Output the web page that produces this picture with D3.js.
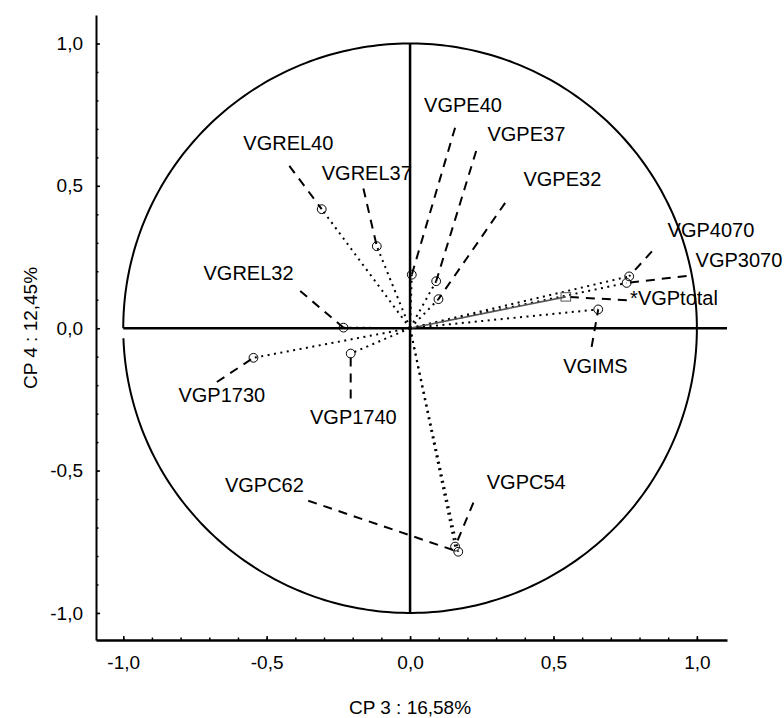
<!DOCTYPE html>
<html>
<head>
<meta charset="utf-8">
<script src="https://cdn.jsdelivr.net/npm/d3@7"></script>
<style>
  body { margin: 0; background: #fff; }
  text { font-family: "Liberation Sans", Arial, sans-serif; fill: #000; }
</style>
</head>
<body>
<svg id="chart" width="784" height="718"></svg>
<script>
// Variable loadings on principal components 3 and 4
const variables = ["VGREL40", "VGREL37", "VGPE40", "VGPE37", "VGPE32", "VGREL32", "VGP1730",
                   "VGP1740", "VGP4070", "VGP3070", "*VGPtotal", "VGIMS", "VGPC54", "VGPC62"];
const cp3 = [-0.308, -0.116, 0.006, 0.091, 0.099, -0.232, -0.546,
             -0.207, 0.764, 0.755, 0.543, 0.656, 0.157, 0.168];
const cp4 = [0.418, 0.288, 0.188, 0.165, 0.102, 0.002, -0.104,
             -0.089, 0.182, 0.159, 0.110, 0.066, -0.767, -0.785];
// supplementary (projected) variable, drawn with a square marker
const supplementary = ["*VGPtotal"];

const majorTicks = [-1.0, -0.5, 0.0, 0.5, 1.0];
const tickLabels = ["-1,0", "-0,5", "0,0", "0,5", "1,0"];
const minorTicks = [-1.0, -0.9, -0.8, -0.7, -0.6, -0.5, -0.4, -0.3, -0.2, -0.1, 0.0,
                    0.1, 0.2, 0.3, 0.4, 0.5, 0.6, 0.7, 0.8, 0.9, 1.0];
const xTitle = "CP 3 : 16,58%";
const yTitle = "CP 4 : 12,45%";

// label placement: pixel offsets from the marker for the text (left, baseline)
// and for the far end of the dashed leader line
const labelLayout = {
  "VGREL40":   { text: [-78.4, -58.7], leader: [-32.4, -43.3] },
  "VGREL37":   { text: [-55.0, -66.3], leader: [-13.4, -57.7] },
  "VGPE40":    { text: [12.3, -163.0], leader: [43.3, -147.0] },
  "VGPE37":    { text: [51.3, -140.7], leader: [40.0, -130.3] },
  "VGPE32":    { text: [85.0, -113.0], leader: [66.7, -96.3] },
  "VGREL32":   { text: [-140.0, -48.0], leader: [-43.3, -36.6] },
  "VGP1730":   { text: [-75.0, 43.8], leader: [-36.6, 24.2] },
  "VGP1740":   { text: [-40.7, 70.4], leader: [0.0, 45.0] },
  "VGP4070":   { text: [38.4, -39.7], leader: [22.7, -25.0] },
  "VGP3070":   { text: [69.0, -15.7], leader: [60.0, -7.0] },
  "*VGPtotal": { text: [64.3, 8.6], leader: [61.0, 3.3] },
  "VGIMS":     { text: [-35.0, 63.4], leader: [-6.6, 37.4] },
  "VGPC54":    { text: [31.7, -58.0], leader: [18.3, -44.0] },
  "VGPC62":    { text: [-233.3, -59.7], leader: [-150.0, -51.0] }
};

const svg = d3.select("#chart");

const x = d3.scaleLinear().domain([-1.095, 1.105]).range([96, 727]);
const y = d3.scaleLinear().domain([-1.095, 1.1]).range([640, 15]);

const points = variables.map((name, i) => ({ name, px: x(cp3[i]), py: y(cp4[i]),
                                              supp: supplementary.includes(name) }));

// unit correlation circle (left side left slightly open below the axis)
const circ = d3.range(0, 361).map(k => {
  const a = Math.PI + 0.035 + (k / 360) * (2 * Math.PI - 0.035);
  return [Math.cos(a), Math.sin(a)];
});
svg.append("path")
  .attr("d", d3.line().x(d => x(d[0])).y(d => y(d[1]))(circ))
  .attr("fill", "none").attr("stroke", "#000").attr("stroke-width", 2);

// reference lines through the origin
svg.append("line")
  .attr("x1", x(-1)).attr("x2", x(1.105)).attr("y1", y(0)).attr("y2", y(0))
  .attr("stroke", "#000").attr("stroke-width", 2.5);
svg.append("line")
  .attr("x1", x(0)).attr("x2", x(0)).attr("y1", y(1)).attr("y2", y(-1))
  .attr("stroke", "#000").attr("stroke-width", 2.5);

// vectors from the origin to each variable
svg.append("g").selectAll("line").data(points).join("line")
  .attr("x1", x(0)).attr("y1", y(0))
  .attr("x2", d => d.px).attr("y2", d => d.py)
  .attr("stroke", d => d.supp ? "#555" : "#000")
  .attr("stroke-width", d => d.supp ? 1.6 : 2)
  .attr("stroke-dasharray", d => d.supp ? null : "2,4.5");

// dashed leaders from markers to labels
svg.append("g").selectAll("line").data(points).join("line")
  .attr("x1", d => d.px + labelLayout[d.name].leader[0])
  .attr("y1", d => d.py + labelLayout[d.name].leader[1])
  .attr("x2", d => d.px).attr("y2", d => d.py)
  .attr("stroke", "#000").attr("stroke-width", 2)
  .attr("stroke-dasharray", "9,7");

// markers
svg.append("g").selectAll("circle").data(points.filter(d => !d.supp)).join("circle")
  .attr("cx", d => d.px).attr("cy", d => d.py).attr("r", 4.4)
  .attr("fill", "none").attr("stroke", "#000").attr("stroke-width", 1);
svg.append("g").selectAll("rect").data(points.filter(d => d.supp)).join("rect")
  .attr("x", d => d.px - 4.8).attr("y", d => d.py - 4.2)
  .attr("width", 9.6).attr("height", 8.4)
  .attr("fill", "none").attr("stroke", "#555").attr("stroke-width", 1);

// variable labels
svg.append("g").selectAll("text").data(points).join("text")
  .attr("x", d => d.px + labelLayout[d.name].text[0])
  .attr("y", d => d.py + labelLayout[d.name].text[1])
  .attr("font-size", 20)
  .text(d => d.name);

// axes
const fmt = v => tickLabels[majorTicks.findIndex(t => Math.abs(t - v) < 1e-9)];

const gx = svg.append("g").attr("transform", `translate(0,640)`);
gx.call(d3.axisBottom(x).tickValues(minorTicks).tickSize(-2.5).tickSizeOuter(0).tickFormat(""));
gx.call(g => g.select(".domain").remove());
const gx2 = svg.append("g").attr("transform", `translate(0,640)`);
gx2.call(d3.axisBottom(x).tickValues(majorTicks).tickSize(-4).tickSizeOuter(0)
  .tickPadding(16).tickFormat(fmt));
gx2.select(".domain").attr("stroke-width", 2.5);
gx2.selectAll("text").attr("font-size", 19).attr("font-family", null);

const gy = svg.append("g").attr("transform", `translate(96,0)`);
gy.call(d3.axisLeft(y).tickValues(minorTicks).tickSize(-2.5).tickSizeOuter(0).tickFormat(""));
gy.call(g => g.select(".domain").remove());
const gy2 = svg.append("g").attr("transform", `translate(96,0)`);
gy2.call(d3.axisLeft(y).tickValues(majorTicks).tickSize(-4).tickSizeOuter(0)
  .tickPadding(13).tickFormat(fmt));
gy2.select(".domain").attr("stroke-width", 2);
gy2.selectAll("text").attr("font-size", 19).attr("font-family", null);
svg.selectAll(".tick line").attr("stroke-width", 1.5);

// axis titles
svg.append("text").attr("x", 410).attr("y", 714).attr("text-anchor", "middle")
  .attr("font-size", 19).text(xTitle);
svg.append("text").attr("transform", "translate(37,328) rotate(-90)")
  .attr("text-anchor", "middle").attr("font-size", 19).text(yTitle);
</script>
</body>
</html>
